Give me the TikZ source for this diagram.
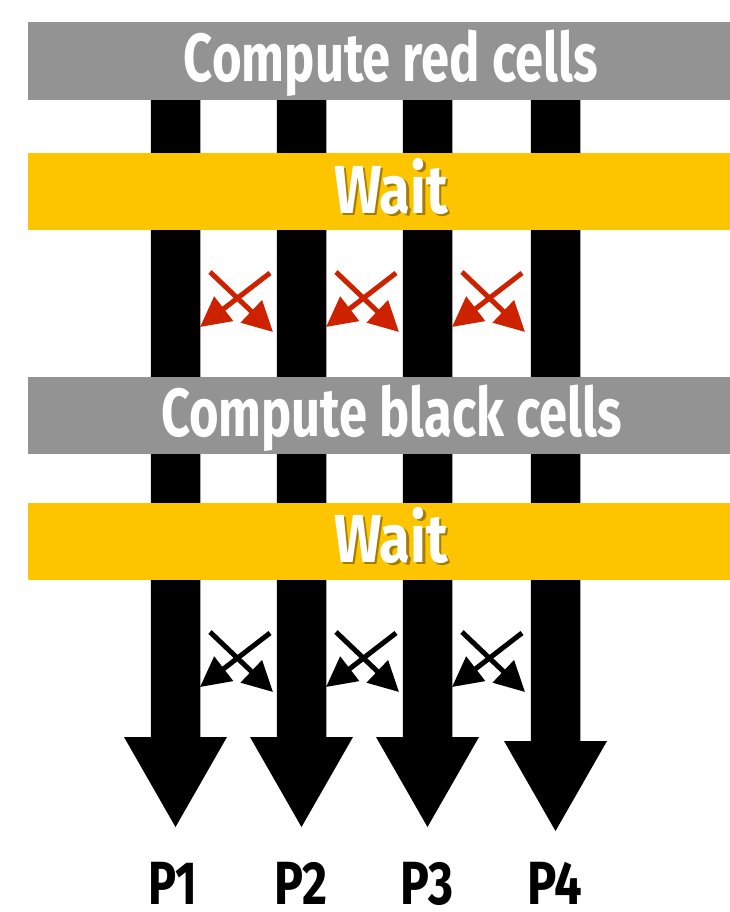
\documentclass[tikz,border=0pt]{standalone}
\usepackage{fontspec}
\usepackage{graphicx}
\usetikzlibrary{arrows.meta,calc}
\newfontfamily\labfont{Fira Sans}
\definecolor{bargray}{HTML}{939393}
\definecolor{waityel}{HTML}{FDC400}
\definecolor{xred}{HTML}{CC2200}
\newcommand{\bartext}[2]{\resizebox{#1pt}{\height}{\labfont\bfseries\fontsize{68}{68}\selectfont #2}}
\newcommand{\ptext}[2]{\resizebox{#1pt}{\height}{\labfont\bfseries\fontsize{61}{61}\selectfont #2}}
\tikzset{
  bar/.style={inner sep=0pt, outer sep=0pt},
  lbl/.style={inner sep=0pt, outer sep=0pt, anchor=base, text=white},
  shad/.style={inner sep=0pt, outer sep=0pt, anchor=base, text=black!80!waityel, opacity=0.45},
  plbl/.style={inner sep=0pt, outer sep=0pt, anchor=base, text=black},
  xarr/.style={line width=5pt, -{Triangle[length=30pt,width=30pt]}},
}
\begin{document}
\begin{tikzpicture}[x=1pt,y=-1pt]
\useasboundingbox (0,0) rectangle (730,912);
% process columns with big arrow heads
\foreach \c/\hb/\tp [count=\i] in {175.5/737/827, 301.5/737/827, 427.5/737/827, 555.5/741/831}{
  \coordinate (top\i) at (\c,60);
  \coordinate (tip\i) at (\c,\tp);
  \fill[black] ($(top\i)+(-24.75,0)$) -- (\c-24.75,\hb) -- (\c-51.5,\hb) -- (tip\i)
     -- (\c+51.5,\hb) -- (\c+24.75,\hb) -- ($(top\i)+(24.75,0)$) -- cycle;
}
% bars
\fill[bargray] (28,22) rectangle (730,100);
\fill[waityel] (28,153) rectangle (730,230);
\fill[bargray] (28,377) rectangle (730,454);
\fill[waityel] (28,503) rectangle (730,580);
\node[bar] (b1) at (379,61) {};
\node[bar] (b2) at (379,191.5) {};
\node[bar] (b3) at (379,415.5) {};
\node[bar] (b4) at (379,541.5) {};
% texts
\node[lbl] (t1) at (391,82) {\bartext{414}{Compute red cells}};
\node[shad] (s2) at (393.5,215.5) {\bartext{114}{Wait}};
\node[lbl] (t2) at (391,213) {\bartext{114}{Wait}};
\node[lbl] (t3) at (391.5,436) {\bartext{461}{Compute black cells}};
\node[shad] (s4) at (393.5,564.5) {\bartext{114}{Wait}};
\node[lbl] (t4) at (391,562) {\bartext{114}{Wait}};
% crossed exchange arrows
\foreach \dx [count=\k] in {0,126,252}{
  \coordinate (ra\k) at (210+\dx,272);
  \coordinate (rA\k) at (273+\dx,332);
  \coordinate (rb\k) at (270+\dx,273);
  \coordinate (rB\k) at (200+\dx,327);
  \draw[xarr, xred] (ra\k) -- (rA\k);
  \draw[xarr, xred] (rb\k) -- (rB\k);
  \coordinate (ka\k) at (210+\dx,632);
  \coordinate (kA\k) at (273+\dx,692);
  \coordinate (kb\k) at (270+\dx,633);
  \coordinate (kB\k) at (200+\dx,687);
  \draw[xarr, black] (ka\k) -- (kA\k);
  \draw[xarr, black] (kb\k) -- (kB\k);
}
% processor labels
\node[plbl] (p1) at (173,904) {\ptext{49}{P1}};
\node[plbl] (p2) at (301,904) {\ptext{53}{P2}};
\node[plbl] (p3) at (427,904) {\ptext{53}{P3}};
\node[plbl] (p4) at (555,904) {\ptext{55}{P4}};
\end{tikzpicture}
\end{document}
